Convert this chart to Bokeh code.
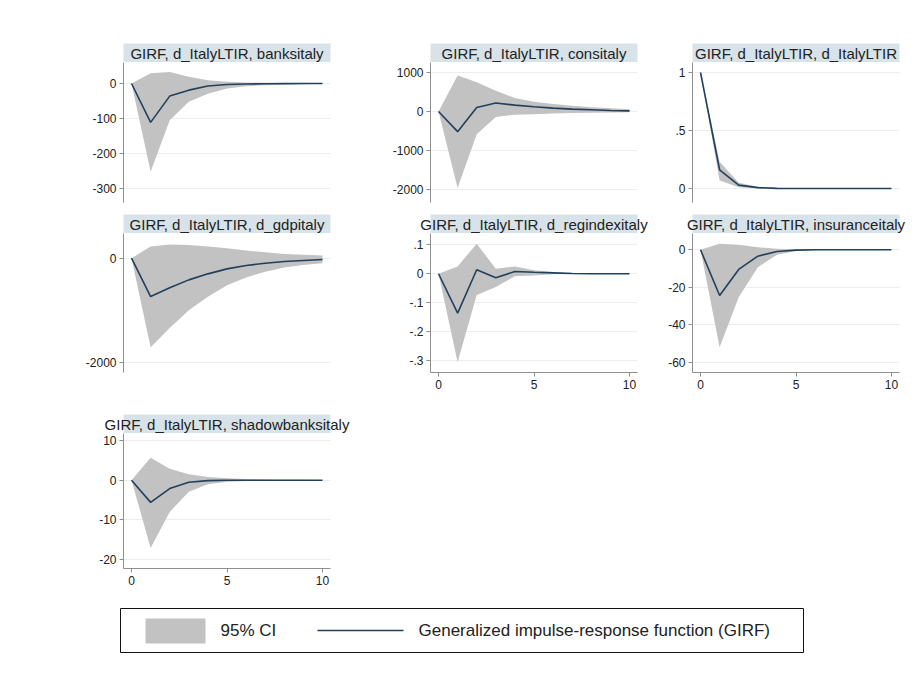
from bokeh.plotting import figure
from bokeh.layouts import column, row
from bokeh.models import FixedTicker, CustomJSTickFormatter, Range1d, ColumnDataSource
from bokeh.embed import file_html
from bokeh.resources import INLINE
from bokeh.core.properties import value

# ---- data: generalized impulse responses to a d_ItalyLTIR shock ----
steps = list(range(11))

banks_irf = [0, -111, -36, -19, -7, -3, -1.5, -0.7, -0.3, -0.1, 0]
banks_lo = [0, -252, -105, -52, -29, -14, -8, -5, -3, -2, -1]
banks_hi = [0, 29, 33, 19, 9, 5, 3, 2, 1, 0.5, 0.3]

cons_irf = [0, -517, 103, 216, 164, 120, 86, 60, 43, 26, 17]
cons_lo = [0, -1960, -586, -138, -86, -69, -52, -40, -30, -25, -20]
cons_hi = [0, 922, 750, 534, 345, 250, 190, 147, 112, 86, 60]

ltir_irf = [1, 0.16, 0.03, 0.008, 0.002, 0.0005, 0, 0, 0, 0, 0]
ltir_lo = [1, 0.07, 0.012, 0.002, 0, 0, 0, 0, 0, 0, 0]
ltir_hi = [1, 0.23, 0.05, 0.015, 0.005, 0.001, 0, 0, 0, 0, 0]

gdp_irf = [0, -737, -570, -417, -301, -205, -141, -96, -64, -45, -26]
gdp_lo = [0, -1712, -1340, -1000, -740, -520, -370, -260, -180, -130, -96]
gdp_hi = [0, 224, 263, 256, 224, 192, 147, 115, 83, 64, 51]

regind_irf = [0, -0.136, 0.014, -0.014, 0.008, 0.005, 0.003, 0.001, 0, 0, 0]
regind_lo = [0, -0.306, -0.073, -0.046, -0.009, -0.006, -0.002, -0.001, 0, 0, 0]
regind_hi = [0, 0.025, 0.104, 0.017, 0.025, 0.012, 0.006, 0.003, 0.002, 0.001, 0]

ins_irf = [0, -24.4, -10.5, -3.4, -0.9, -0.2, 0, 0, 0, 0, 0]
ins_lo = [0, -52, -25.3, -9.3, -2.7, -0.7, -0.2, 0, 0, 0, 0]
ins_hi = [0, 3.2, 2.7, 1.4, 0.5, 0.2, 0.1, 0, 0, 0, 0]

shadow_irf = [0, -5.6, -2.1, -0.5, -0.1, 0, 0, 0, 0, 0, 0]
shadow_lo = [0, -17.1, -8.0, -2.9, -1.0, -0.4, -0.2, -0.1, 0, 0, 0]
shadow_hi = [0, 5.7, 2.9, 1.5, 0.8, 0.5, 0.3, 0.2, 0.1, 0.1, 0]

x_ticks = [0, 5, 10]
legend_labels = ["95% CI", "Generalized impulse-response function (GIRF)"]

# ---- styling ----
FONT = "Liberation Sans"
BAND = "#c2c2c2"
LINE = "#22405c"
TITLE_BG = "#d8e3e9"
GRID = "#e9eef1"
AXIS = "#8f8f8f"
TEXT = "#222222"

PAGE_W = 917
FRAME_W = 207
TITLE_H = 19
# left / right borders of the three columns
COLS = [(123, 50), (50, 28), (27, 18)]
# height of the strip holding the subtitle bands, frame height, bottom border of each row
ROWS = [(62, 140, 6), (25, 139, 28), (33, 135, 32)]

stata_fmt = CustomJSTickFormatter(code="""
    const s = String(tick);
    return s.replace(/^(-?)0\\./, "$1.");
""")


def blank(width, height):
    f = figure(width=width, height=height, output_backend="svg", toolbar_location=None,
               x_range=Range1d(0, width), y_range=Range1d(0, height),
               min_border_left=0, min_border_right=0, min_border_top=0, min_border_bottom=0)
    f.axis.visible = False
    f.grid.visible = False
    f.outline_line_color = None
    f.background_fill_color = "white"
    f.border_fill_color = "white"
    return f


def frame_left(col):
    x0 = sum(l + FRAME_W + r for l, r in COLS[:col])
    return x0 + COLS[col][0]


def subtitle_strip(titles, rw):
    """One page-wide strip carrying the shaded subtitle band of every panel in a row."""
    t = blank(PAGE_W, ROWS[rw][0])
    lefts = [frame_left(c) for c in range(len(titles))]
    t.quad(left=lefts, right=[x + FRAME_W for x in lefts],
           bottom=[0] * len(titles), top=[TITLE_H] * len(titles),
           fill_color=TITLE_BG, line_color=None)
    t.text(x=[x + FRAME_W / 2 for x in lefts], y=[TITLE_H / 2 - 0.5] * len(titles), text=titles,
           text_font=value(FONT), text_font_size="15px", text_align="center",
           text_baseline="middle", text_color=TEXT)
    return row(t)


def panel(irf, lo, hi, yticks, yrange, col, rw, show_x):
    left, right = COLS[col]
    _, fh, bottom = ROWS[rw]
    p = figure(width=left + FRAME_W + right, height=fh + bottom,
               output_backend="svg", toolbar_location=None,
               x_range=Range1d(-0.42, 10.42), y_range=Range1d(*yrange),
               min_border_left=left, min_border_right=right,
               min_border_top=0, min_border_bottom=bottom)
    p.outline_line_color = None
    p.background_fill_color = "white"
    p.border_fill_color = "white"

    src = ColumnDataSource(dict(step=steps, irf=irf, lo=lo, hi=hi))
    p.varea(x="step", y1="lo", y2="hi", source=src, fill_color=BAND)
    p.line(x="step", y="irf", source=src, line_color=LINE, line_width=1.6)

    for ax in (p.xaxis[0], p.yaxis[0]):
        ax.axis_line_color = AXIS
        ax.major_tick_line_color = AXIS
        ax.minor_tick_line_color = None
        ax.major_tick_in = 0
        ax.major_tick_out = 4
        ax.major_label_text_font = FONT
        ax.major_label_text_font_size = "12px"
        ax.major_label_text_color = TEXT
        ax.major_label_standoff = 3
    p.yaxis.ticker = FixedTicker(ticks=yticks)
    p.yaxis.formatter = stata_fmt
    p.xaxis.ticker = FixedTicker(ticks=x_ticks)
    p.xaxis.visible = show_x

    p.xgrid.visible = False
    p.ygrid.grid_line_color = GRID
    p.ygrid.grid_line_width = 1
    return p


titles_1 = ["GIRF, d_ItalyLTIR, banksitaly", "GIRF, d_ItalyLTIR, consitaly",
            "GIRF, d_ItalyLTIR, d_ItalyLTIR"]
titles_2 = ["GIRF, d_ItalyLTIR, d_gdpitaly", "GIRF, d_ItalyLTIR, d_regindexitaly",
            "GIRF, d_ItalyLTIR, insuranceitaly"]
titles_3 = ["GIRF, d_ItalyLTIR, shadowbanksitaly"]

p1 = panel(banks_irf, banks_lo, banks_hi, [-300, -200, -100, 0], (-340, 60), 0, 0, False)
p2 = panel(cons_irf, cons_lo, cons_hi, [-2000, -1000, 0, 1000], (-2333, 1256), 1, 0, False)
p3 = panel(ltir_irf, ltir_lo, ltir_hi, [0, 0.5, 1], (-0.12, 1.086), 2, 0, False)
p4 = panel(gdp_irf, gdp_lo, gdp_hi, [-2000, 0], (-2198, 475), 0, 1, False)
p5 = panel(regind_irf, regind_lo, regind_hi, [-0.3, -0.2, -0.1, 0, 0.1], (-0.341, 0.139), 1, 1, True)
p6 = panel(ins_irf, ins_lo, ins_hi, [-60, -40, -20, 0], (-65.5, 8.7), 2, 1, True)
p7 = panel(shadow_irf, shadow_lo, shadow_hi, [-20, -10, 0, 10], (-22.3, 11.8), 0, 2, True)

# ---- legend strip ----
LW, LH = 683, 44
leg = figure(width=PAGE_W, height=77, output_backend="svg", toolbar_location=None,
             x_range=Range1d(0, LW), y_range=Range1d(0, LH),
             min_border_left=120, min_border_right=114, min_border_top=8, min_border_bottom=25)
leg.axis.visible = False
leg.grid.visible = False
leg.outline_line_color = "#111111"
leg.outline_line_width = 1
leg.border_fill_color = "white"
leg.quad(left=[25], right=[85], bottom=[9], top=[34], fill_color=BAND, line_color=None)
leg.segment(x0=[197], y0=[22], x1=[283], y1=[22], line_color=LINE, line_width=1.6)
leg.text(x=[100, 298], y=[22, 22], text=legend_labels, text_font=value(FONT),
         text_font_size="17px", text_baseline="middle", text_align="left", text_color=TEXT)

layout = column(subtitle_strip(titles_1, 0), row(p1, p2, p3),
                subtitle_strip(titles_2, 1), row(p4, p5, p6),
                subtitle_strip(titles_3, 2), row(p7),
                row(leg))

with open("out.html", "w") as f:
    f.write(file_html(layout, INLINE))
